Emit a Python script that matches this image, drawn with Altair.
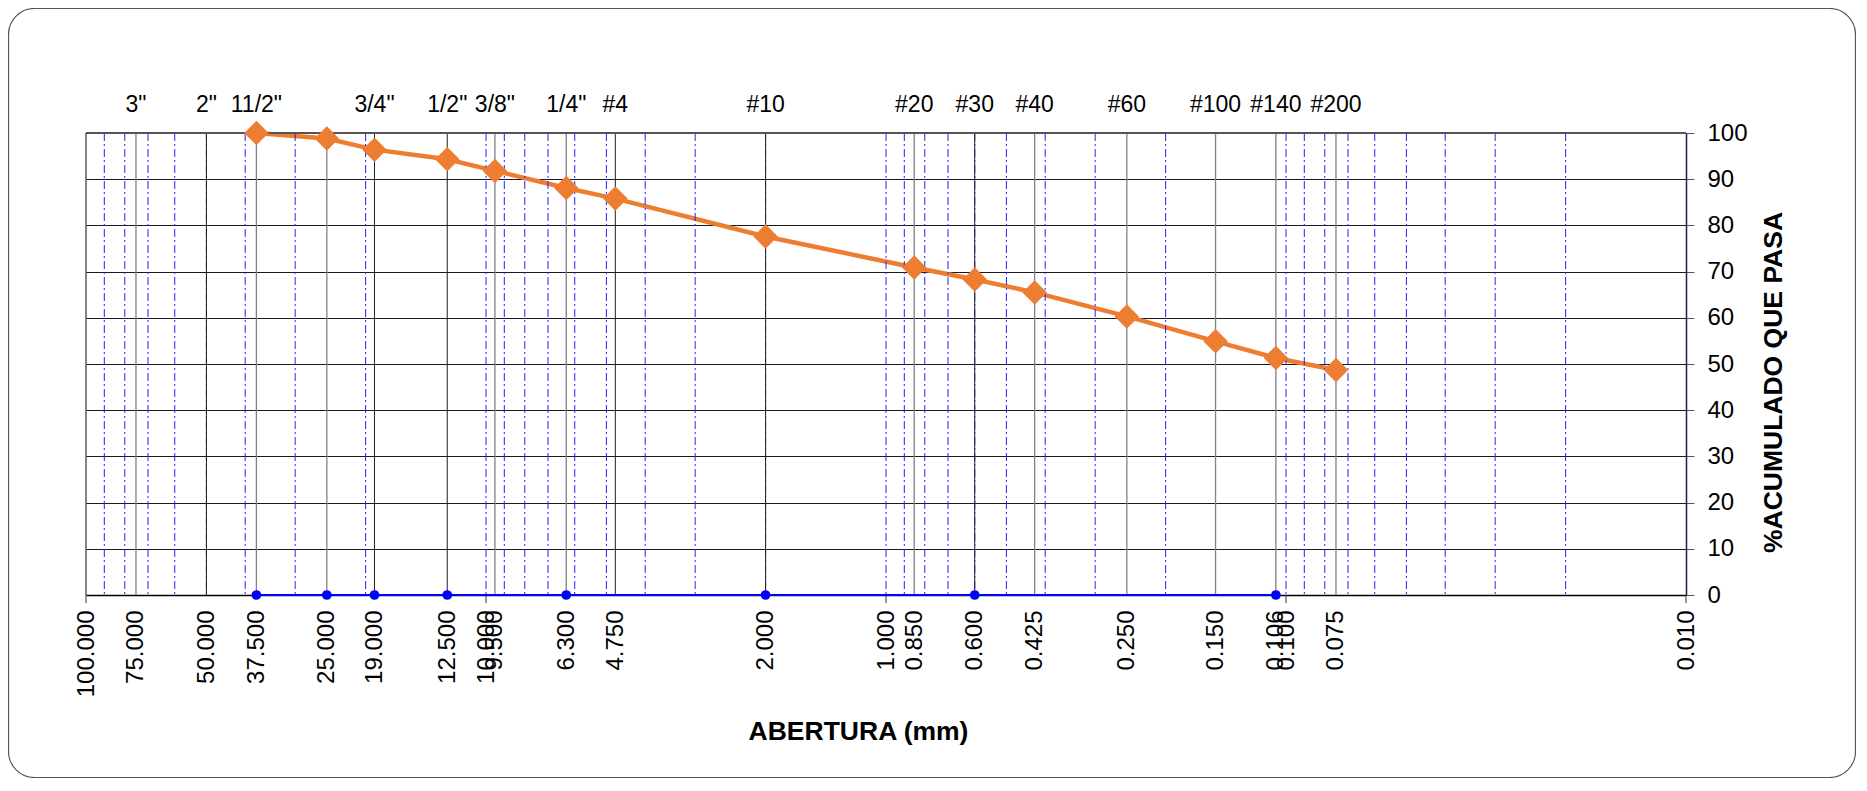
import altair as alt
import pandas as pd

# ---- data ----
sieve_mm = [37.5, 25.0, 19.0, 12.5, 9.5, 6.3, 4.75, 2.0, 0.85, 0.6, 0.425, 0.25, 0.15, 0.106, 0.075]
pct_passing = [100.0, 98.8, 96.4, 94.3, 91.8, 88.1, 85.8, 77.6, 70.9, 68.3, 65.5, 60.3, 54.9, 51.3, 48.7]

zero_mm = [37.5, 25.0, 19.0, 12.5, 6.3, 2.0, 0.6, 0.106]
zero_pct = [0, 0, 0, 0, 0, 0, 0, 0]

top_labels = ['3"', '2"', '11/2"', '3/4"', '1/2"', '3/8"', '1/4"', '#4', '#10',
              '#20', '#30', '#40', '#60', '#100', '#140', '#200']
top_label_mm = [75, 50, 37.5, 19, 12.5, 9.5, 6.3, 4.75, 2.0,
                0.85, 0.6, 0.425, 0.25, 0.15, 0.106, 0.075]

axis_label_mm = [100, 75, 50, 37.5, 25, 19, 12.5, 10, 9.5, 6.3, 4.75, 2, 1, 0.85,
                 0.6, 0.425, 0.25, 0.15, 0.106, 0.1, 0.075, 0.01]
decade_mm = [100, 10, 1, 0.1, 0.01]
minor_grid_mm = [90, 80, 70, 60, 50, 40, 30, 20, 10,
                 9, 8, 7, 6, 5, 4, 3, 2, 1,
                 0.9, 0.8, 0.7, 0.6, 0.5, 0.4, 0.3, 0.2, 0.1,
                 0.09, 0.08, 0.07, 0.06, 0.05, 0.04, 0.03, 0.02]
sieve_lines_dark = [50, 19, 12.5, 4.75, 2.0, 0.6]
sieve_lines_gray = [75, 37.5, 25, 9.5, 6.3, 0.85, 0.425, 0.25, 0.15, 0.106, 0.075]
pct_ticks = [0, 10, 20, 30, 40, 50, 60, 70, 80, 90, 100]

W, H = 1600, 462
FONT = "Liberation Sans"

xscale = alt.Scale(type="log", domain=[0.01, 100], reverse=True)
yscale = alt.Scale(domain=[0, 100], nice=False)

curve_df = pd.DataFrame({"mm": sieve_mm, "pct": pct_passing})
zero_df = pd.DataFrame({"mm": zero_mm, "pct": zero_pct})

x_axis = alt.Axis(
    values=axis_label_mm, format=".3f", labelAngle=270, labelFontSize=24,
    labelOverlap=False, labelFlush=False, ticks=False, labelPadding=15,
    grid=False, domainColor="black", domainWidth=1.5,
    title="ABERTURA (mm)", titleFontSize=26.5, titleFontWeight="bold",
    titleX=772, titleY=144, titleAlign="center", titleBaseline="alphabetic",
)
y_axis = alt.Axis(
    orient="right", values=pct_ticks, grid=True, gridColor="#1a1a1a", gridWidth=1,
    tickSize=8, tickColor="#555555", domainColor="#1a1a50", domainWidth=1.5,
    labelFontSize=24, labelPadding=13,
    title="%ACUMULADO QUE PASA", titleFontSize=26.5, titleFontWeight="bold",
    titleAngle=270, titleX=87, titleY=249, titleAlign="center", titleBaseline="middle",
)

orange_line = alt.Chart(curve_df).mark_line(color="#ED7D31", strokeWidth=4.5).encode(
    x=alt.X("mm:Q", scale=xscale, axis=x_axis),
    y=alt.Y("pct:Q", scale=yscale, axis=y_axis),
)
orange_pts = alt.Chart(curve_df).mark_point(
    shape="diamond", filled=True, size=600, color="#ED7D31", opacity=1
).encode(x=alt.X("mm:Q", scale=xscale), y=alt.Y("pct:Q", scale=yscale))

blue_line = alt.Chart(zero_df).mark_line(color="#0000FF", strokeWidth=2).encode(
    x=alt.X("mm:Q", scale=xscale), y=alt.Y("pct:Q", scale=yscale)
)
blue_pts = alt.Chart(zero_df).mark_circle(size=95, color="#0000FF", opacity=1).encode(
    x=alt.X("mm:Q", scale=xscale), y=alt.Y("pct:Q", scale=yscale)
)

minor = alt.Chart(pd.DataFrame({"mm": minor_grid_mm})).mark_rule(
    color="#2222ff", strokeWidth=1, strokeDash=[8, 3, 2, 3]
).encode(x=alt.X("mm:Q", scale=xscale))

dark_lines = alt.Chart(pd.DataFrame({"mm": sieve_lines_dark})).mark_rule(
    color="#202020", strokeWidth=1
).encode(x=alt.X("mm:Q", scale=xscale))
gray_lines = alt.Chart(pd.DataFrame({"mm": sieve_lines_gray})).mark_rule(
    color="#808080", strokeWidth=1.3
).encode(x=alt.X("mm:Q", scale=xscale))

top_border = alt.Chart(pd.DataFrame({"pct": [100]})).mark_rule(
    color="#555555", strokeWidth=2
).encode(y=alt.Y("pct:Q", scale=yscale))
left_border = alt.Chart(pd.DataFrame({"mm": [100]})).mark_rule(
    color="#333333", strokeWidth=1.2
).encode(x=alt.X("mm:Q", scale=xscale))

decade_ticks = alt.Chart(pd.DataFrame({"mm": decade_mm})).mark_rule(
    color="#333333", strokeWidth=1
).encode(x=alt.X("mm:Q", scale=xscale), y=alt.value(H), y2=alt.value(H + 8))

top_text = alt.Chart(pd.DataFrame({"mm": top_label_mm, "label": top_labels})).mark_text(
    fontSize=23, font=FONT, align="center", baseline="alphabetic", color="black"
).encode(x=alt.X("mm:Q", scale=xscale), y=alt.value(-21), text="label:N")

frame = alt.Chart(alt.Data(values=[{"a": 1}])).mark_rect(
    fillOpacity=0, stroke="#555555", strokeWidth=1.2, cornerRadius=26
).encode(x=alt.value(-77.5), x2=alt.value(1769.5), y=alt.value(-124.5), y2=alt.value(644.5))

chart = alt.layer(
    orange_line, frame, minor, gray_lines, dark_lines, top_border, left_border,
    decade_ticks, blue_line, blue_pts, orange_pts, top_text,
).properties(
    width=W, height=H,
    padding={"left": 78, "top": 125, "right": 170, "bottom": 183},
    autosize=alt.AutoSizeParams(type="none"),
    background="white",
).configure(font=FONT).configure_view(stroke=None).configure_axis(
    labelColor="black", titleColor="black", labelFont=FONT, titleFont=FONT
)

chart.save("out.html", embed_options={"renderer": "svg", "actions": False})
